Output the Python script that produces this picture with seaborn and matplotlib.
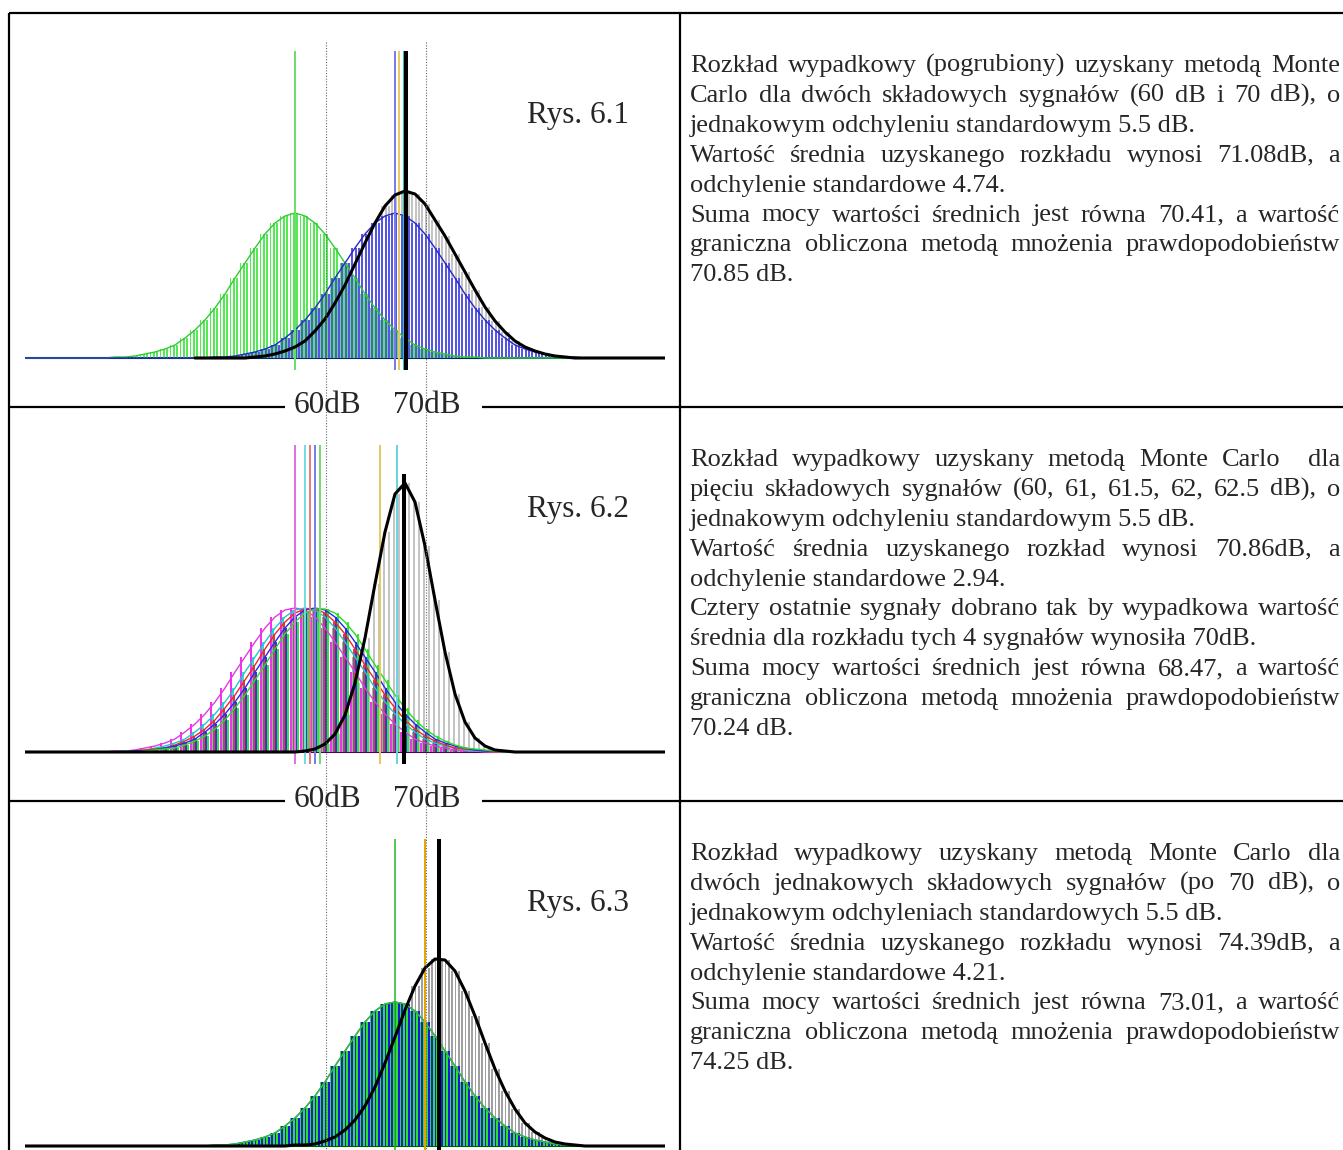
import numpy as np
import seaborn as sns
import matplotlib
matplotlib.use("Agg")
import matplotlib.pyplot as plt

sns.set_theme(style="white")
plt.rcParams['font.family'] = ['Liberation Serif', 'DejaVu Serif']

# --- dane (wysokości słupków/krzywych w pikselach, co 1 dB) ---
db_bins = np.arange(33, 98)  # 33 .. 97 dB

# Rys. 6.1 : 60 dB (zielony), 70 dB (niebieski), wypadkowy (szary / czarny)
p1_green = [0, 0, 0, 0, 0, 0, 0, 0, 0, 1,
            1, 2, 4, 6, 9, 13, 20, 28, 38, 50,
            64, 80, 95, 110, 124, 135, 142, 145, 142, 135,
            124, 110, 95, 80, 64, 50, 38, 28, 20, 13,
            9, 6, 4, 2, 1, 1, 0, 0, 0, 0,
            0, 0, 0, 0, 0, 0, 0, 0, 0, 0,
            0, 0, 0, 0, 0]
p1_blue = [0, 0, 0, 0, 0, 0, 0, 0, 0, 0,
           0, 0, 0, 0, 0, 0, 0, 0, 0, 1,
           1, 2, 4, 6, 9, 13, 20, 28, 38, 50,
           64, 80, 95, 110, 124, 135, 142, 145, 142, 135,
           124, 110, 95, 80, 64, 50, 38, 28, 20, 13,
           9, 6, 4, 2, 1, 1, 0, 0, 0, 0,
           0, 0, 0, 0, 0]
p1_result = [0, 0, 0, 0, 0, 0, 0, 0, 0, 0,
             0, 0, 0, 0, 0, 0, 0, 0, 0, 0,
             0, 0, 0, 1, 2, 4, 7, 11, 17, 27,
             39, 55, 73, 94, 115, 135, 152, 163, 167, 164,
             154, 138, 122, 104, 86, 68, 51, 37, 26, 17,
             11, 7, 4, 2, 1, 0, 0, 0, 0, 0,
             0, 0, 0, 0, 0]

# Rys. 6.2 : 60, 61, 61.5, 62, 62.5 dB i wypadkowy
p2_s60 = [0, 0, 0, 0, 0, 0, 0, 0, 0, 1,
          1, 2, 4, 6, 9, 13, 20, 28, 38, 50,
          64, 80, 95, 110, 124, 135, 142, 144, 142, 135,
          124, 110, 95, 80, 64, 50, 38, 28, 20, 13,
          9, 6, 4, 2, 1, 1, 0, 0, 0, 0,
          0, 0, 0, 0, 0, 0, 0, 0, 0, 0,
          0, 0, 0, 0, 0]
p2_s61 = [0, 0, 0, 0, 0, 0, 0, 0, 0, 0,
          1, 1, 2, 4, 6, 9, 13, 20, 28, 38,
          50, 64, 80, 95, 110, 124, 135, 142, 144, 142,
          135, 124, 110, 95, 80, 64, 50, 38, 28, 20,
          13, 9, 6, 4, 2, 1, 1, 0, 0, 0,
          0, 0, 0, 0, 0, 0, 0, 0, 0, 0,
          0, 0, 0, 0, 0]
p2_s615 = [0, 0, 0, 0, 0, 0, 0, 0, 0, 0,
           0, 1, 2, 3, 4, 7, 11, 16, 23, 32,
           44, 57, 72, 87, 103, 118, 130, 139, 143, 143,
           139, 130, 118, 103, 87, 72, 57, 44, 32, 23,
           16, 11, 7, 4, 3, 2, 1, 0, 0, 0,
           0, 0, 0, 0, 0, 0, 0, 0, 0, 0,
           0, 0, 0, 0, 0]
p2_s62 = [0, 0, 0, 0, 0, 0, 0, 0, 0, 0,
          0, 1, 1, 2, 4, 6, 9, 13, 20, 28,
          38, 50, 64, 80, 95, 110, 124, 135, 142, 144,
          142, 135, 124, 110, 95, 80, 64, 50, 38, 28,
          20, 13, 9, 6, 4, 2, 1, 1, 0, 0,
          0, 0, 0, 0, 0, 0, 0, 0, 0, 0,
          0, 0, 0, 0, 0]
p2_s625 = [0, 0, 0, 0, 0, 0, 0, 0, 0, 0,
           0, 0, 1, 2, 3, 4, 7, 11, 16, 23,
           32, 44, 57, 72, 87, 103, 118, 130, 139, 143,
           143, 139, 130, 118, 103, 87, 72, 57, 44, 32,
           23, 16, 11, 7, 4, 3, 2, 1, 0, 0,
           0, 0, 0, 0, 0, 0, 0, 0, 0, 0,
           0, 0, 0, 0, 0]
p2_result = [0, 0, 0, 0, 0, 0, 0, 0, 0, 0,
             0, 0, 0, 0, 0, 0, 0, 0, 0, 0,
             0, 0, 0, 0, 0, 0, 0, 0, 1, 3,
             8, 18, 37, 69, 114, 168, 220, 258, 269, 250,
             206, 152, 100, 58, 30, 14, 6, 2, 1, 0,
             0, 0, 0, 0, 0, 0, 0, 0, 0, 0,
             0, 0, 0, 0, 0]

# Rys. 6.3 : dwa sygnały po 70 dB i wypadkowy
p3_green = [0, 0, 0, 0, 0, 0, 0, 0, 0, 0,
            0, 0, 0, 0, 0, 0, 0, 0, 0, 1,
            1, 2, 4, 6, 9, 13, 20, 28, 38, 50,
            64, 80, 95, 110, 124, 135, 142, 144, 142, 135,
            124, 110, 95, 80, 64, 50, 38, 28, 20, 13,
            9, 6, 4, 2, 1, 1, 0, 0, 0, 0,
            0, 0, 0, 0, 0]
p3_blue = [0, 0, 0, 0, 0, 0, 0, 0, 0, 0,
           0, 0, 0, 0, 0, 0, 0, 0, 0, 1,
           1, 2, 4, 6, 9, 13, 20, 28, 38, 50,
           64, 80, 95, 110, 124, 135, 142, 144, 142, 135,
           124, 110, 95, 80, 64, 50, 38, 28, 20, 13,
           9, 6, 4, 2, 1, 1, 0, 0, 0, 0,
           0, 0, 0, 0, 0]
p3_result = [0, 0, 0, 0, 0, 0, 0, 0, 0, 0,
             0, 0, 0, 0, 0, 0, 0, 0, 0, 0,
             0, 0, 0, 0, 0, 0, 0, 1, 1, 2,
             5, 9, 16, 26, 40, 59, 83, 109, 136, 160,
             178, 187, 186, 175, 155, 130, 103, 77, 55, 37,
             23, 14, 8, 4, 2, 1, 0, 0, 0, 0,
             0, 0, 0, 0, 0]

# pionowe linie: wartości średnie / suma mocy / wartość graniczna [dB]
p1_marks = [60, 70, 70.41, 70.85, 71.08]
p2_marks = [60, 61, 61.5, 62, 62.5, 68.47, 70.24, 70.86]
p3_marks = [70, 73.01, 74.25, 74.39]
guide_db = [63.1, 73.1]  # kropkowane linie pomocnicze

axis_labels = ["60dB", "70dB"]
fig_labels = ["Rys. 6.1", "Rys. 6.2", "Rys. 6.3"]

texts = [
    [["Rozkład wypadkowy (pogrubiony) uzyskany metodą Monte",
      "Carlo dla dwóch składowych sygnałów (60 dB i 70 dB), o",
      "jednakowym odchyleniu standardowym 5.5 dB."],
     ["Wartość średnia uzyskanego rozkładu wynosi 71.08dB, a",
      "odchylenie standardowe 4.74."],
     ["Suma mocy wartości średnich jest równa 70.41, a wartość",
      "graniczna obliczona metodą mnożenia prawdopodobieństw",
      "70.85 dB."]],
    [["Rozkład wypadkowy uzyskany metodą Monte Carlo  dla",
      "pięciu składowych sygnałów (60, 61, 61.5, 62, 62.5 dB), o",
      "jednakowym odchyleniu standardowym 5.5 dB."],
     ["Wartość średnia uzyskanego rozkład wynosi 70.86dB, a",
      "odchylenie standardowe 2.94."],
     ["Cztery ostatnie sygnały dobrano tak by wypadkowa wartość",
      "średnia dla rozkładu tych 4 sygnałów wynosiła 70dB."],
     ["Suma mocy wartości średnich jest równa 68.47, a wartość",
      "graniczna obliczona metodą mnożenia prawdopodobieństw",
      "70.24 dB."]],
    [["Rozkład wypadkowy uzyskany metodą Monte Carlo dla",
      "dwóch jednakowych składowych sygnałów (po 70 dB), o",
      "jednakowym odchyleniach standardowych 5.5 dB."],
     ["Wartość średnia uzyskanego rozkładu wynosi 74.39dB, a",
      "odchylenie standardowe 4.21."],
     ["Suma mocy wartości średnich jest równa 73.01, a wartość",
      "graniczna obliczona metodą mnożenia prawdopodobieństw",
      "74.25 dB."]],
]

# --- wygląd ---
W, H = 1343, 1150
X_LEFT, X_RIGHT = 25, 665
DB_MIN, DB_MAX = 33, 97
ROW = 394
BODY = 19
BIG = 22.5
LW_TABLE = 1.6

# (dane, kolor słupków, przesunięcie, paski na 1 dB, szerokość)
bars = [
    [(p1_green, '#55ea55', -0.11, 3, 0.18),
     (p1_result, '#c4c4c4', 0.06, 3, 0.18),
     (p1_blue, '#5656e4', 0.06, 3, 0.18)],
    [(p2_result, '#c4c4c4', 0.17, 2, 0.18),
     (p2_s60, '#f032f0', -5 / 12, 1, 0.2),
     (p2_s61, '#32dcdc', -3 / 12, 1, 0.2),
     (p2_s615, '#f03232', -1 / 12, 1, 0.2),
     (p2_s62, '#3232f0', 1 / 12, 1, 0.2),
     (p2_s625, '#32e632', 3 / 12, 1, 0.2)],
    [(p3_result, '#a0a0a0', 0.06, 3, 0.16),
     (p3_green, '#2ee02e', -0.12, 3, 0.14),
     (p3_blue, '#1c1cd4', 0.05, 3, 0.19)],
]
curves = [
    [(p1_green, '#2ecc2e'), (p1_blue, '#2828c8')],
    [(p2_s60, '#e03ce0'), (p2_s61, '#1fc8c8'), (p2_s615, '#f02828'),
     (p2_s62, '#2828f0'), (p2_s625, '#28dc28')],
    [(p3_blue, '#2828c8'), (p3_green, '#2ecc2e')],
]
results = [(p1_result, 50), (p2_result, 33), (p3_result, 33)]
mark_style = [
    [('#6cdc6c', 1.4, 307), ('#7878ee', 1.4, 307), ('#e8c860', 1.4, 307),
     ('#30c0c0', 1.4, 307), ('black', 2.9, 307)],
    [('#e070e0', 1.4, 307), ('#70dcdc', 1.4, 307), ('#e87878', 1.4, 307),
     ('#7a7ae8', 1.4, 307), ('#70dc70', 1.4, 307), ('#e6c860', 1.4, 307),
     ('#66d4e0', 1.4, 307), ('black', 2.9, 278)],
    [('#22b822', 1.1, 307), ('#e8a400', 1.4, 307), ('#22b4c8', 1.4, 307),
     ('black', 2.9, 307)],
]
marks = [p1_marks, p2_marks, p3_marks]
baseline_col = ['#002a60', '#4a0060', '#005a00']

fig = plt.figure(figsize=(W / 100, H / 100), dpi=100)
fig.patch.set_facecolor('white')


def db_px(v):
    return X_LEFT + (v - DB_MIN) * (X_RIGHT - X_LEFT) / (DB_MAX - DB_MIN)


for p in range(3):
    yb = 358 + ROW * p
    ax = fig.add_axes([X_LEFT / W, (H - (yb + 14)) / H,
                       (X_RIGHT - X_LEFT) / W, 330 / H])
    ax.set_xlim(DB_MIN, DB_MAX)
    ax.set_ylim(-14, 316)
    ax.axis('off')

    ax.plot([DB_MIN, DB_MAX], [0, 0], color=baseline_col[p], lw=1.5, zorder=1)

    for vals, col, off, m, wd in bars[p]:
        vals = np.asarray(vals, float)
        strips = np.arange(m) / m - (m - 1) / (2 * m)
        xs = (db_bins[:, None] + off + strips[None, :]).ravel()
        hs = np.repeat(vals, m)
        keep = hs > 0
        ax.bar(xs[keep], hs[keep], width=wd, color=col, linewidth=0, zorder=2)

    for vals, col in curves[p]:
        sns.lineplot(x=db_bins, y=vals, ax=ax, color=col, linewidth=1.0,
                     legend=False, zorder=3)

    for v, (col, lw, top) in zip(marks[p], mark_style[p]):
        ax.vlines(v, -12, top, color=col, lw=lw, zorder=4 if col != 'black' else 6)

    vals, start = results[p]
    sel = db_bins >= start
    sns.lineplot(x=db_bins[sel], y=np.asarray(vals)[sel], ax=ax, color='black',
                 linewidth=2.2, legend=False, zorder=5)

# rama tabeli, opisy i tekst
frame = fig.add_axes([0, 0, 1, 1])
frame.set_xlim(0, W)
frame.set_ylim(H, 0)
frame.axis('off')
frame.set_facecolor('none')
frame.set_zorder(10)

frame.hlines(13, 8.5, W, color='black', lw=LW_TABLE)
frame.vlines([8.5, 680], 13, H, color='black', lw=LW_TABLE)
for r in range(2):
    y = 406.7 + ROW * r
    frame.hlines(y, 8.5, 285, color='black', lw=LW_TABLE)
    frame.hlines(y, 482, W, color='black', lw=LW_TABLE)
    frame.text(294, 413 + ROW * r, axis_labels[0], fontsize=BIG,
               ha='left', va='baseline')
    frame.text(393, 413 + ROW * r, axis_labels[1], fontsize=BIG,
               ha='left', va='baseline')

frame.vlines([db_px(g) for g in guide_db], 42, H, color='#666666', lw=0.8,
             linestyles=(0, (1, 1.5)))

for p in range(3):
    frame.text(527, 123.3 + ROW * p, fig_labels[p], fontsize=BIG,
               ha='left', va='baseline')

renderer = fig.canvas.get_renderer()


def text_width(s):
    if not s:
        return 0.0
    t = frame.text(0, 0, s, fontsize=BODY)
    w = t.get_window_extent(renderer=renderer).width
    t.remove()
    return w


X0, X1 = 690, 1340
LINE = 29.9
for p in range(3):
    y = 72 + ROW * p
    for para in texts[p]:
        for i, line in enumerate(para):
            if i == len(para) - 1:
                frame.text(X0, y, line, fontsize=BODY, ha='left', va='baseline')
            else:
                words = line.split(' ')
                widths = [text_width(w) for w in words]
                gap = (X1 - X0 - sum(widths)) / (len(words) - 1)
                x = X0
                for w, wd in zip(words, widths):
                    if w:
                        frame.text(x, y, w, fontsize=BODY, ha='left', va='baseline')
                    x += wd + gap
            y += LINE

fig.savefig("out.png", dpi=100, facecolor='white')
